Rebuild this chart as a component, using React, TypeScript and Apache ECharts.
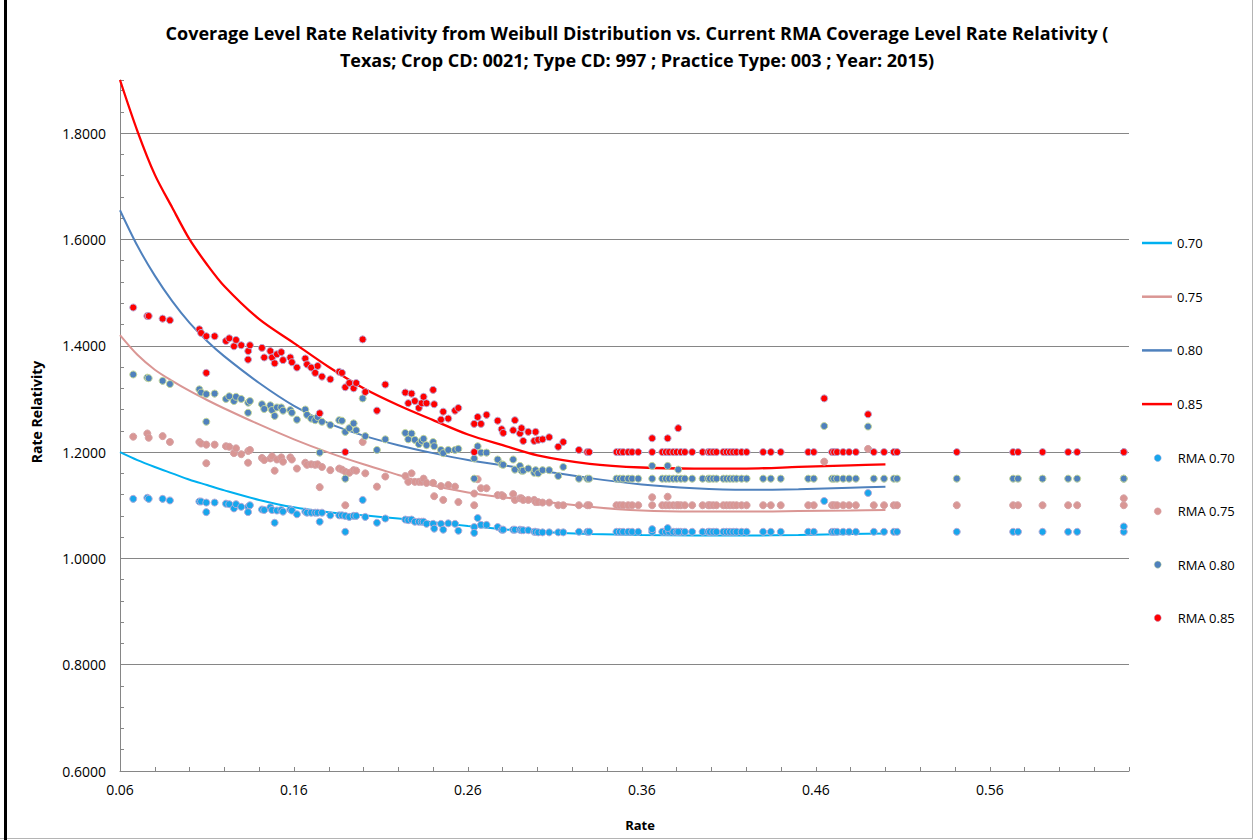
import React, { useEffect, useRef } from 'react';
import * as echarts from 'echarts';

// ---- Data ----
const rates = [
  0.0676, 0.0757, 0.0765, 0.0845, 0.0887, 0.1056, 0.1066, 0.1096, 0.1096, 0.1144,
  0.1209, 0.1228, 0.1255, 0.1267, 0.1297, 0.1337, 0.1347, 0.1336, 0.1416, 0.1429,
  0.1464, 0.1474, 0.1489, 0.1502, 0.1527, 0.1537, 0.1579, 0.1588, 0.1617, 0.1665,
  0.1675, 0.1699, 0.1722, 0.1736, 0.1748, 0.1761, 0.1809, 0.1860, 0.1876, 0.1895,
  0.1895, 0.1918, 0.1943, 0.1958, 0.1995, 0.2010, 0.2077, 0.2125, 0.2240, 0.2257,
  0.2276, 0.2295, 0.2318, 0.2334, 0.2345, 0.2362, 0.2400, 0.2406, 0.2445, 0.2458,
  0.2487, 0.2526, 0.2545, 0.2636, 0.2636, 0.2656, 0.2675, 0.2707, 0.2771, 0.2794,
  0.2803, 0.2860, 0.2870, 0.2899, 0.2908, 0.2918, 0.2947, 0.2981, 0.2989, 0.3004,
  0.3029, 0.3067, 0.3119, 0.3148, 0.3238, 0.3286, 0.3297, 0.3454, 0.3473, 0.3492,
  0.3521, 0.3544, 0.3579, 0.3659, 0.3659, 0.3717, 0.3738, 0.3757, 0.3780, 0.3800,
  0.3824, 0.3847, 0.3889, 0.3748, 0.3809, 0.3949, 0.3981, 0.3991, 0.4010, 0.4029,
  0.4068, 0.4087, 0.4106, 0.4125, 0.4144, 0.4173, 0.4202, 0.4297, 0.4341, 0.4398,
  0.4556, 0.4588, 0.4648, 0.4693, 0.4705, 0.4722, 0.4757, 0.4791, 0.4830, 0.4900,
  0.4933, 0.4992, 0.5048, 0.5067, 0.5410, 0.5734, 0.5762, 0.5903, 0.6050, 0.6102,
  0.6370, 0.6370,
];

const rma70 = [
  1.112, 1.114, 1.112, 1.112, 1.109, 1.107, 1.107, 1.105, 1.087, 1.105,
  1.103, 1.102, 1.094, 1.102, 1.097, 1.097, 1.100, 1.087, 1.092, 1.091,
  1.096, 1.091, 1.067, 1.090, 1.091, 1.088, 1.092, 1.090, 1.083, 1.088,
  1.086, 1.086, 1.086, 1.086, 1.069, 1.086, 1.081, 1.081, 1.081, 1.080,
  1.050, 1.078, 1.080, 1.080, 1.110, 1.078, 1.067, 1.075, 1.073, 1.072,
  1.073, 1.069, 1.069, 1.069, 1.069, 1.065, 1.065, 1.056, 1.065, 1.054,
  1.066, 1.065, 1.052, 1.059, 1.048, 1.076, 1.063, 1.063, 1.059, 1.054,
  1.054, 1.054, 1.054, 1.054, 1.053, 1.053, 1.053, 1.050, 1.050, 1.049,
  1.049, 1.049, 1.049, 1.049, 1.050, 1.050, 1.050, 1.050, 1.050, 1.050,
  1.050, 1.050, 1.050, 1.050, 1.055, 1.050, 1.050, 1.050, 1.050, 1.050,
  1.050, 1.050, 1.050, 1.057, 1.050, 1.050, 1.050, 1.050, 1.050, 1.050,
  1.050, 1.050, 1.050, 1.050, 1.050, 1.050, 1.050, 1.050, 1.050, 1.050,
  1.050, 1.050, 1.108, 1.050, 1.050, 1.050, 1.050, 1.050, 1.050, 1.123,
  1.050, 1.050, 1.050, 1.050, 1.050, 1.050, 1.050, 1.050, 1.050, 1.050,
  1.050, 1.060,
];

const rma75 = [
  1.229, 1.235, 1.227, 1.230, 1.219, 1.219, 1.216, 1.214, 1.179, 1.214,
  1.211, 1.210, 1.198, 1.207, 1.196, 1.202, 1.204, 1.180, 1.189, 1.185,
  1.188, 1.192, 1.165, 1.186, 1.190, 1.182, 1.190, 1.186, 1.169, 1.180,
  1.176, 1.177, 1.176, 1.177, 1.134, 1.172, 1.166, 1.169, 1.167, 1.163,
  1.100, 1.161, 1.166, 1.165, 1.219, 1.160, 1.135, 1.154, 1.155, 1.144,
  1.160, 1.144, 1.144, 1.144, 1.150, 1.142, 1.142, 1.117, 1.136, 1.110,
  1.138, 1.135, 1.106, 1.122, 1.100, 1.149, 1.132, 1.132, 1.119, 1.119,
  1.117, 1.121, 1.110, 1.113, 1.113, 1.110, 1.110, 1.110, 1.106, 1.106,
  1.105, 1.105, 1.100, 1.100, 1.100, 1.100, 1.100, 1.100, 1.100, 1.100,
  1.100, 1.100, 1.100, 1.100, 1.115, 1.100, 1.100, 1.100, 1.100, 1.100,
  1.100, 1.100, 1.100, 1.116, 1.100, 1.100, 1.100, 1.100, 1.100, 1.100,
  1.100, 1.100, 1.100, 1.100, 1.100, 1.100, 1.100, 1.100, 1.100, 1.100,
  1.100, 1.100, 1.182, 1.100, 1.100, 1.100, 1.100, 1.100, 1.100, 1.206,
  1.100, 1.100, 1.100, 1.100, 1.100, 1.100, 1.100, 1.100, 1.100, 1.100,
  1.100, 1.113,
];

const rma80 = [
  1.346, 1.340, 1.339, 1.334, 1.328, 1.318, 1.312, 1.309, 1.257, 1.310,
  1.300, 1.305, 1.296, 1.304, 1.300, 1.293, 1.296, 1.274, 1.290, 1.281,
  1.288, 1.279, 1.268, 1.284, 1.284, 1.278, 1.279, 1.274, 1.261, 1.280,
  1.270, 1.263, 1.260, 1.266, 1.199, 1.257, 1.251, 1.260, 1.259, 1.238,
  1.150, 1.245, 1.254, 1.241, 1.301, 1.230, 1.204, 1.224, 1.236, 1.224,
  1.235, 1.223, 1.215, 1.221, 1.225, 1.213, 1.219, 1.211, 1.204, 1.198,
  1.204, 1.204, 1.206, 1.188, 1.150, 1.211, 1.199, 1.199, 1.186, 1.177,
  1.176, 1.186, 1.167, 1.174, 1.165, 1.165, 1.169, 1.161, 1.166, 1.160,
  1.166, 1.166, 1.155, 1.172, 1.150, 1.150, 1.150, 1.150, 1.150, 1.150,
  1.150, 1.150, 1.150, 1.150, 1.174, 1.150, 1.150, 1.150, 1.150, 1.150,
  1.150, 1.150, 1.150, 1.174, 1.167, 1.150, 1.150, 1.150, 1.150, 1.150,
  1.150, 1.150, 1.150, 1.150, 1.150, 1.150, 1.150, 1.150, 1.150, 1.150,
  1.150, 1.150, 1.249, 1.150, 1.150, 1.150, 1.150, 1.150, 1.150, 1.248,
  1.150, 1.150, 1.150, 1.150, 1.150, 1.150, 1.150, 1.150, 1.150, 1.150,
  1.150, 1.150,
];

const rma85 = [
  1.472, 1.456, 1.456, 1.451, 1.448, 1.431, 1.424, 1.418, 1.349, 1.418,
  1.409, 1.414, 1.399, 1.411, 1.401, 1.390, 1.401, 1.374, 1.396, 1.378,
  1.390, 1.378, 1.367, 1.384, 1.388, 1.373, 1.378, 1.369, 1.359, 1.376,
  1.365, 1.359, 1.349, 1.362, 1.273, 1.342, 1.337, 1.351, 1.349, 1.322,
  1.200, 1.330, 1.320, 1.330, 1.412, 1.313, 1.278, 1.327, 1.312, 1.292,
  1.310, 1.296, 1.283, 1.292, 1.304, 1.292, 1.317, 1.290, 1.261, 1.276,
  1.263, 1.278, 1.283, 1.253, 1.200, 1.266, 1.253, 1.270, 1.259, 1.243,
  1.236, 1.241, 1.260, 1.235, 1.245, 1.221, 1.238, 1.221, 1.238, 1.223,
  1.224, 1.228, 1.210, 1.219, 1.204, 1.200, 1.200, 1.200, 1.200, 1.200,
  1.200, 1.200, 1.200, 1.200, 1.226, 1.200, 1.200, 1.200, 1.200, 1.200,
  1.200, 1.200, 1.200, 1.226, 1.245, 1.200, 1.200, 1.200, 1.200, 1.200,
  1.200, 1.200, 1.200, 1.200, 1.200, 1.200, 1.200, 1.200, 1.200, 1.200,
  1.200, 1.200, 1.301, 1.200, 1.200, 1.200, 1.200, 1.200, 1.200, 1.271,
  1.200, 1.200, 1.200, 1.200, 1.200, 1.200, 1.200, 1.200, 1.200, 1.200,
  1.200, 1.200,
];

// Weibull-derived curves
const fitRates = [0.06, 0.07, 0.08, 0.09, 0.10, 0.11, 0.12, 0.14, 0.16, 0.18, 0.20, 0.22, 0.24, 0.26, 0.28, 0.30, 0.33, 0.36, 0.39, 0.42, 0.45, 0.48, 0.50];
const fit70 = [1.200, 1.185, 1.172, 1.160, 1.148, 1.138, 1.128, 1.110, 1.096, 1.087, 1.081, 1.075, 1.068, 1.061, 1.055, 1.050, 1.046, 1.044, 1.043, 1.043, 1.044, 1.046, 1.047];
const fit75 = [1.420, 1.383, 1.355, 1.334, 1.315, 1.298, 1.282, 1.252, 1.224, 1.199, 1.177, 1.157, 1.137, 1.124, 1.115, 1.108, 1.097, 1.090, 1.088, 1.088, 1.089, 1.090, 1.091];
const fit80 = [1.655, 1.588, 1.532, 1.484, 1.443, 1.409, 1.380, 1.330, 1.287, 1.254, 1.231, 1.213, 1.198, 1.185, 1.175, 1.166, 1.151, 1.139, 1.132, 1.129, 1.130, 1.133, 1.135];
const fit85 = [1.900, 1.804, 1.722, 1.660, 1.600, 1.553, 1.512, 1.450, 1.405, 1.360, 1.320, 1.288, 1.260, 1.233, 1.213, 1.194, 1.178, 1.171, 1.169, 1.169, 1.172, 1.175, 1.177];

const lineNames = ['0.70', '0.75', '0.80', '0.85'];
const pointNames = ['RMA 0.70', 'RMA 0.75', 'RMA 0.80', 'RMA 0.85'];
const titleLines = [
  'Coverage Level Rate Relativity from Weibull Distribution vs. Current RMA Coverage Level Rate Relativity (',
  'Texas; Crop CD: 0021; Type CD: 997 ; Practice Type: 003 ; Year: 2015)',
];

export default function App() {
  const ref = useRef<HTMLDivElement>(null);

  useEffect(() => {
    document.body.style.margin = '0';
    const chart = echarts.init(ref.current!, null, { renderer: 'svg' });
    const font = "'Open Sans', 'Noto Sans', sans-serif";
    const axisGray = '#868686';

    const pts = (ys: number[]) => rates.map((x, i) => [x, ys[i]]);
    const fit = (ys: number[]) => fitRates.map((x, i) => [x, ys[i]]);

    const lineSeries = (name: string, color: string, ys: number[], width: number) => ({
      type: 'line',
      name,
      data: fit(ys),
      smooth: 0.3,
      symbol: 'none',
      showSymbol: false,
      lineStyle: { color, width },
      itemStyle: { color },
      silent: true,
      z: 3,
    });
    const scatterSeries = (name: string, fill: string, border: string, ys: number[]) => ({
      type: 'scatter',
      name,
      data: pts(ys),
      symbolSize: 7,
      itemStyle: { color: fill, borderColor: border, borderWidth: 1, opacity: 1 },
      silent: true,
      z: 4,
    });

    chart.setOption({
      animation: false,
      backgroundColor: '#ffffff',
      textStyle: { fontFamily: font },
      grid: { left: 120, right: 126, top: 80, bottom: 69, containLabel: false },
      xAxis: {
        type: 'value',
        min: 0.06,
        max: 0.64,
        interval: 0.02,
        axisLine: { show: true, onZero: false, lineStyle: { color: axisGray, width: 1 } },
        axisTick: { show: true, inside: true, length: 4, lineStyle: { color: axisGray } },
        axisLabel: {
          color: '#000',
          fontSize: 14,
          fontFamily: font,
          margin: 11,
          formatter: (v: number) => {
            const k = Math.round((v - 0.06) / 0.02);
            return k % 5 === 0 ? v.toFixed(2) : '';
          },
        },
        splitLine: { show: false },
      },
      yAxis: {
        type: 'value',
        min: 0.6,
        max: 1.9,
        interval: 0.04,
        axisLine: { show: true, onZero: false, lineStyle: { color: axisGray, width: 1 } },
        axisTick: { show: true, inside: true, length: 4, lineStyle: { color: axisGray } },
        axisLabel: {
          color: '#000',
          fontSize: 14,
          fontFamily: font,
          margin: 14,
          formatter: (v: number) => {
            const k = Math.round((v - 0.6) / 0.04);
            return k % 5 === 0 && v < 1.85 ? v.toFixed(4) : '';
          },
        },
        splitLine: {
          show: true,
          lineStyle: {
            color: [axisGray, 'rgba(0,0,0,0)', 'rgba(0,0,0,0)', 'rgba(0,0,0,0)', 'rgba(0,0,0,0)'],
            width: 1,
          },
        },
      },
      legend: [
        {
          data: lineNames.map((name) => ({ name, icon: 'rect' })),
          orient: 'vertical',
          left: 1142,
          top: 236,
          padding: 0,
          itemWidth: 30,
          itemHeight: 2.5,
          itemGap: 39.7,
          selectedMode: false,
          textStyle: { color: '#000', fontSize: 13, lineHeight: 14, fontFamily: font },
        },
        {
          data: pointNames,
          orient: 'vertical',
          left: 1154,
          top: 451,
          padding: 0,
          itemWidth: 30,
          itemHeight: 7,
          itemGap: 39.3,
          selectedMode: false,
          itemStyle: { borderWidth: 0.5 },
          textStyle: { color: '#000', fontSize: 13, lineHeight: 14, fontFamily: font },
        },
      ],
      graphic: [
        {
          type: 'text',
          x: 637,
          y: 33,
          style: { text: titleLines[0], fontSize: 18, fontWeight: 'bold', fontFamily: font, fill: '#000', align: 'center', verticalAlign: 'middle' },
        },
        {
          type: 'text',
          x: 637,
          y: 60,
          style: { text: titleLines[1], fontSize: 18, fontWeight: 'bold', fontFamily: font, fill: '#000', align: 'center', verticalAlign: 'middle' },
        },
        {
          type: 'text',
          x: 640,
          y: 825,
          style: { text: 'Rate', fontSize: 13, fontWeight: 'bold', fontFamily: font, fill: '#000', align: 'center', verticalAlign: 'middle' },
        },
        {
          type: 'text',
          x: 36,
          y: 412,
          rotation: Math.PI / 2,
          style: { text: 'Rate Relativity', fontSize: 14, fontWeight: 'bold', fontFamily: font, fill: '#000', align: 'center', verticalAlign: 'middle' },
        },
        {
          type: 'polyline',
          shape: { points: [[1252.5, 0], [1252.5, 838.5], [0, 838.5]] },
          style: { stroke: '#b4b4b4', lineWidth: 1, fill: 'none' },
          silent: true,
        },
        {
          type: 'line',
          shape: { x1: 5.5, y1: 0, x2: 5.5, y2: 840 },
          style: { stroke: '#000', lineWidth: 3 },
          silent: true,
        },
      ],
      series: [
        lineSeries(lineNames[0], '#00B0F0', fit70, 2),
        lineSeries(lineNames[1], '#DA9694', fit75, 2),
        lineSeries(lineNames[2], '#4F81BD', fit80, 2),
        lineSeries(lineNames[3], '#FF0000', fit85, 2.3),
        scatterSeries(pointNames[0], '#17A6EC', '#B3ABD8', rma70),
        scatterSeries(pointNames[1], '#D99694', '#D6A3A6', rma75),
        scatterSeries(pointNames[2], '#4F81BD', '#C3D69B', rma80),
        scatterSeries(pointNames[3], '#FF0000', '#B9A7D3', rma85),
      ],
    });

    return () => chart.dispose();
  }, []);

  return <div ref={ref} style={{ width: 1255, height: 840 }} />;
}
